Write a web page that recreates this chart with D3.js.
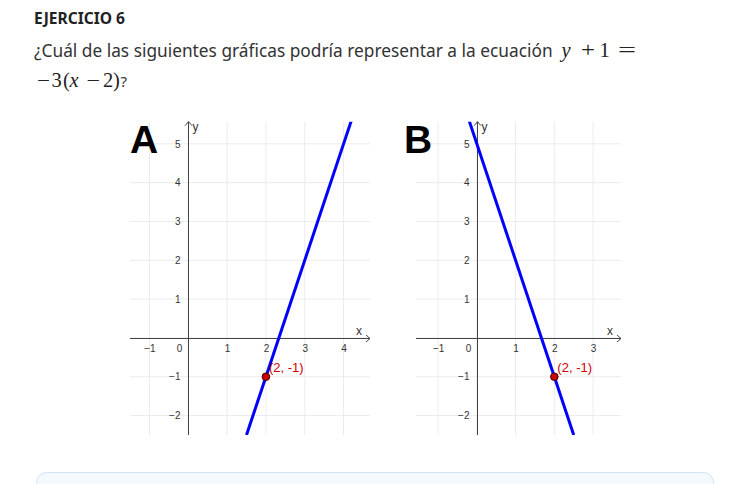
<!DOCTYPE html>
<html>
<head>
<meta charset="utf-8">
<script src="https://cdn.jsdelivr.net/npm/d3@7"></script>
<style>
  html, body { margin: 0; padding: 0; background: #ffffff; }
  svg { display: block; }
</style>
</head>
<body>
<svg id="chart" width="744" height="484"></svg>
<script>
// ---- data ----
const panelLabels = ["A", "B"];
const xTicksA = [-1, 0, 1, 2, 3, 4];
const xTicksB = [-1, 0, 1, 2, 3];
const yTicks = [-2, -1, 1, 2, 3, 4, 5];
const xDomainA = [-1.5, 4.68];
const xDomainB = [-1.57, 3.72];
const yDomain = [-2.5, 5.57];
// each line given by two points (drawn clipped to the plot)
const lineA = [[1.5, -2.5], [4.2, 5.6]];
const lineB = [[-0.2, 5.6], [2.5, -2.5]];
const markedPoint = [2, -1];
const markedLabel = "(2, -1)";
const titleText = "EJERCICIO 6";
const questionText = "¿Cuál de las siguientes gráficas podría representar a la ecuación";

const svg = d3.select("#chart");
const fmt = d3.format("d");

// ---- heading text ----
const t = svg.append("text").attr("x", 34).attr("y", 24)
  .attr("font-family", "'Noto Sans', sans-serif").attr("font-weight", "bold")
  .attr("font-size", 14).attr("fill", "#222").text(titleText);
t.attr("font-size", 14 * 91 / t.node().getComputedTextLength());

const q = svg.append("text").attr("x", 34).attr("y", 57)
  .attr("font-family", "'Noto Sans', sans-serif").attr("font-size", 16)
  .attr("fill", "#333").text(questionText);
q.attr("font-size", 16 * 519 / q.node().getComputedTextLength());

// math glyphs: [x, glyph, style, stretchWidth]
function mathText(y, parts) {
  parts.forEach(([xx, s, style, w]) => {
    const el = svg.append("text").attr("x", xx).attr("y", y)
      .attr("font-family", "'Liberation Serif', serif").attr("font-size", 20.5)
      .attr("fill", "#222").text(s);
    if (style === "i") el.attr("font-style", "italic");
    if (style === "s") el.attr("font-family", "'Noto Sans', sans-serif").attr("font-size", 15).attr("fill", "#333");
    if (w) el.attr("textLength", w).attr("lengthAdjust", "spacingAndGlyphs");
  });
}
mathText(57, [[561.5, "y", "i"], [581, "+", null, 14], [599.5, "1"], [618, "=", null, 18]]);
mathText(87, [[37, "−", null, 13], [51.5, "3"], [63, "("], [69.5, "x", "i"], [86.5, "−", null, 13.5], [103, "2"], [113, ")"], [120.5, "?", "s"]]);

// ---- panels ----
const panels = [
  {label: panelLabels[0], xDomain: xDomainA, xRange: [130, 370], xTicks: xTicksA, line: lineA, labelX: 130},
  {label: panelLabels[1], xDomain: xDomainB, xRange: [416, 621], xTicks: xTicksB, line: lineB, labelX: 404}
];

panels.forEach((p, i) => {
  const x = d3.scaleLinear().domain(p.xDomain).range(p.xRange);
  const y = d3.scaleLinear().domain(yDomain).range([435, 121.7]);
  const g = svg.append("g");
  const clipId = "clip" + i;
  svg.append("clipPath").attr("id", clipId).append("rect")
    .attr("x", p.xRange[0]).attr("y", 121.7)
    .attr("width", p.xRange[1] - p.xRange[0]).attr("height", 435 - 121.7);

  // grid
  const gx = d3.range(Math.ceil(p.xDomain[0]), Math.floor(p.xDomain[1]) + 1);
  const gy = d3.range(Math.ceil(yDomain[0]), Math.floor(yDomain[1]) + 1);
  g.selectAll(".gx").data(gx).join("line")
    .attr("x1", d => x(d)).attr("x2", d => x(d)).attr("y1", 121.7).attr("y2", 435)
    .attr("stroke", "#ebebeb").attr("stroke-width", 1);
  g.selectAll(".gy").data(gy).join("line")
    .attr("y1", d => y(d)).attr("y2", d => y(d)).attr("x1", p.xRange[0]).attr("x2", p.xRange[1])
    .attr("stroke", "#ebebeb").attr("stroke-width", 1);

  // axes lines
  const x0 = Math.round(x(0)) + 0.5, y0 = Math.round(y(0)) + 0.5;
  g.append("line").attr("x1", p.xRange[0]).attr("x2", p.xRange[1]).attr("y1", y0).attr("y2", y0)
    .attr("stroke", "#444").attr("stroke-width", 1);
  g.append("line").attr("x1", x0).attr("x2", x0).attr("y1", 435).attr("y2", 121.7)
    .attr("stroke", "#444").attr("stroke-width", 1);
  // arrow chevrons
  g.append("path").attr("d", `M${p.xRange[1] - 4},${y0 - 3.5}L${p.xRange[1]},${y0}L${p.xRange[1] - 4},${y0 + 3.5}`)
    .attr("fill", "none").attr("stroke", "#444");
  g.append("path").attr("d", `M${x0 - 3.5},${121.7 + 4}L${x0},121.7L${x0 + 3.5},${121.7 + 4}`)
    .attr("fill", "none").attr("stroke", "#444");
  g.append("text").attr("x", p.xRange[1] - 11).attr("y", y0 - 4)
    .attr("font-family", "'Liberation Sans', Arial, sans-serif").attr("font-size", 12)
    .attr("text-anchor", "middle").attr("fill", "#333").text("x");
  g.append("text").attr("x", x0 + 4).attr("y", 131)
    .attr("font-family", "'Liberation Sans', Arial, sans-serif").attr("font-size", 12)
    .attr("fill", "#333").text("y");

  // tick labels via d3 axes
  const xa = d3.axisBottom(x).tickValues(p.xTicks.filter(d => d !== 0)).tickFormat(fmt).tickSize(0).tickPadding(6);
  const xg = g.append("g").attr("transform", `translate(0,${y0})`).call(xa);
  xg.select(".domain").remove();
  xg.selectAll("text").attr("font-family", "'Liberation Sans', Arial, sans-serif")
    .attr("font-size", 10).attr("fill", "#333");
  g.append("text").attr("x", x0 - 9).attr("y", y0 + 13)
    .attr("font-family", "'Liberation Sans', Arial, sans-serif").attr("font-size", 10)
    .attr("text-anchor", "middle").attr("fill", "#333").text(fmt(0));
  const ya = d3.axisLeft(y).tickValues(yTicks).tickFormat(fmt).tickSize(0).tickPadding(8);
  const yg = g.append("g").attr("transform", `translate(${x0},0)`).call(ya);
  yg.select(".domain").remove();
  yg.selectAll("text").attr("font-family", "'Liberation Sans', Arial, sans-serif")
    .attr("font-size", 10).attr("fill", "#333");

  // line
  g.append("path").datum(p.line)
    .attr("clip-path", `url(#${clipId})`)
    .attr("d", d3.line().x(d => x(d[0])).y(d => y(d[1])))
    .attr("fill", "none").attr("stroke", "#0000ff").attr("stroke-width", 3);

  // marked point
  g.append("circle").attr("cx", x(markedPoint[0])).attr("cy", y(markedPoint[1])).attr("r", 3.8)
    .attr("fill", "#cc0000").attr("stroke", "#400000").attr("stroke-width", 1);
  g.append("text").attr("x", x(markedPoint[0]) + 3).attr("y", y(markedPoint[1]) - 5)
    .attr("font-family", "'Liberation Sans', Arial, sans-serif").attr("font-size", 13)
    .attr("fill", "#cc0000").text(markedLabel);

  // panel letter
  svg.append("text").attr("x", p.labelX).attr("y", 153)
    .attr("font-family", "'Liberation Sans', Arial, sans-serif").attr("font-weight", "bold")
    .attr("font-size", 39).attr("fill", "#000").text(p.label);
});

// bottom box
svg.append("rect").attr("x", 36.5).attr("y", 472.5).attr("width", 677).attr("height", 40)
  .attr("rx", 10).attr("fill", "#f4f9fd").attr("stroke", "#cfe3f5");
</script>
</body>
</html>
